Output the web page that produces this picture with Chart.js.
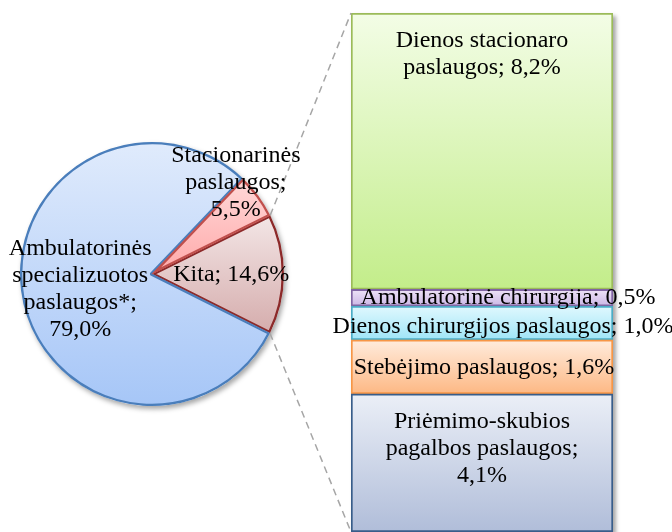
<!DOCTYPE html>
<html>
<head>
<meta charset="utf-8">
<script src="https://cdn.jsdelivr.net/npm/chart.js@4.4.1/dist/chart.umd.min.js"></script>
<style>
html,body{margin:0;padding:0;background:#fff;}
#wrap{position:relative;width:672px;height:532px;overflow:hidden;}
#wrap canvas{position:absolute;left:0;top:0;}
</style>
</head>
<body>
<div id="wrap">
<canvas id="barChart" width="672" height="532"></canvas>
<canvas id="pieChart" width="672" height="532"></canvas>
</div>
<script>
// main pie, first slice is the one that gets split out
const pieCategories = ['Kita', 'Ambulatorinės specializuotos paslaugos*', 'Stacionarinės paslaugos']
const pieValues = [14.6, 79.0, 5.5]

// split bar, listed from the bottom up
const barCategories = ['Priėmimo-skubios pagalbos paslaugos', 'Stebėjimo paslaugos', 'Dienos chirurgijos paslaugos', 'Ambulatorinė chirurgija', 'Dienos stacionaro paslaugos']
const barValues = [4.1, 1.6, 1.0, 0.5, 8.2]

const pct = v => v.toFixed(1).replace('.', ',') + '%'

const pieLabelLines = [
    ['Kita; ' + pct(pieValues[0])],
    ['Ambulatorinės', 'specializuotos', 'paslaugos*;', pct(pieValues[1])],
    ['Stacionarinės', 'paslaugos;', pct(pieValues[2])]
]
const barLabelLines = [
    ['Priėmimo-skubios', 'pagalbos paslaugos;', pct(barValues[0])],
    ['Stebėjimo paslaugos; ' + pct(barValues[1])],
    ['Dienos chirurgijos paslaugos; ' + pct(barValues[2])],
    ['Ambulatorinė chirurgija; ' + pct(barValues[3])],
    ['Dienos stacionaro', 'paslaugos; ' + pct(barValues[4])]
]

const pieColors = [['#f3e6e6', '#d5acac'], ['#e0ebfc', '#a6c6f7'], ['#ffd8d8', '#ffa9a9']]
const pieBorders = ['#8c2a2a', '#4a7ebb', '#c0504d']
const barColors = [['#ebeff7', '#b0bdd9'], ['#ffecdd', '#fdb884'], ['#e0f8fe', '#9fe5f7'], ['#eee3f7', '#cbb6e5'], ['#f3fde6', '#c3ed8a']]
const barBorders = ['#385d8a', '#f79646', '#4bacc6', '#8064a2', '#9bbb59']

const FONT = '24px "Liberation Serif", "Times New Roman", serif'
const LINE_H = 27
const total = barValues.reduce((a, b) => a + b, 0)

function barFill(i) {
    return function (context) {
        const chart = context.chart
        if (!chart.chartArea) return barColors[i][1]
        let below = 0
        for (let k = 0; k < i; k++) below += barValues[k]
        const y = chart.scales.y
        const top = y.getPixelForValue(below + barValues[i])
        const bottom = y.getPixelForValue(below)
        const g = chart.ctx.createLinearGradient(0, top, 0, bottom)
        g.addColorStop(0, barColors[i][0])
        g.addColorStop(1, barColors[i][1])
        return g
    }
}

const barDecor = {
    id: 'barDecor',
    beforeDatasetsDraw(chart) {
        const ctx = chart.ctx
        const first = chart.getDatasetMeta(0).data[0]
        const last = chart.getDatasetMeta(barValues.length - 1).data[0]
        const left = first.x - first.width / 2
        ctx.save()
        ctx.shadowColor = 'rgba(0,0,0,0.35)'
        ctx.shadowBlur = 4
        ctx.shadowOffsetX = 3
        ctx.shadowOffsetY = 3
        ctx.fillStyle = '#fff'
        ctx.fillRect(left, last.y, first.width, first.base - last.y)
        ctx.restore()
    },
    afterDatasetsDraw(chart) {
        const ctx = chart.ctx
        const shift = [0, 2, 21, 26, 0]
        ctx.save()
        ctx.font = FONT
        ctx.fillStyle = '#000'
        ctx.textAlign = 'center'
        ctx.textBaseline = 'middle'
        barLabelLines.forEach((lines, i) => {
            const el = chart.getDatasetMeta(i).data[0]
            const h = el.base - el.y
            const y0 = el.y + Math.min(27.5, Math.max(h / 2, h - 13))
            lines.forEach((t, j) => ctx.fillText(t, el.x + shift[i], y0 + j * LINE_H))
        })
        ctx.restore()
    }
}

const barChart = new Chart(document.getElementById('barChart'), {
    type: 'bar',
    data: {
        labels: [''],
        datasets: barCategories.map((c, i) => ({
            label: c,
            data: [barValues[i]],
            backgroundColor: barFill(i),
            borderColor: barBorders[i],
            borderWidth: 2,
            borderSkipped: false,
            barPercentage: 1,
            categoryPercentage: 1
        }))
    },
    options: {
        responsive: false,
        animation: false,
        layout: { padding: { left: 351, right: 59, top: 13, bottom: 0 } },
        scales: {
            x: { stacked: true, display: false },
            y: { stacked: true, display: false, min: 0, max: total }
        },
        plugins: { legend: { display: false }, tooltip: { enabled: false } }
    },
    plugins: [barDecor]
})

const ROTATION = 63.6

function pieFill(context) {
    const i = context.dataIndex
    const chart = context.chart
    const a = chart.chartArea
    if (!a || i === undefined) return pieColors[0][1]
    const cy = (a.top + a.bottom) / 2
    const r = Math.min(a.right - a.left, a.bottom - a.top) / 2
    const sum = pieValues.reduce((p, q) => p + q, 0)
    let start = (ROTATION - 90) * Math.PI / 180
    for (let k = 0; k < i; k++) start += pieValues[k] / sum * 2 * Math.PI
    const end = start + pieValues[i] / sum * 2 * Math.PI
    let top = cy, bottom = cy
    for (let s = 0; s <= 60; s++) {
        const yy = cy + r * Math.sin(start + (end - start) * s / 60)
        top = Math.min(top, yy)
        bottom = Math.max(bottom, yy)
    }
    const g = chart.ctx.createLinearGradient(0, top, 0, bottom)
    g.addColorStop(0, pieColors[i][0])
    g.addColorStop(1, pieColors[i][1])
    return g
}

const pieDecor = {
    id: 'pieDecor',
    beforeDatasetsDraw(chart) {
        const ctx = chart.ctx
        const arc = chart.getDatasetMeta(0).data[0]
        ctx.save()
        ctx.shadowColor = 'rgba(0,0,0,0.35)'
        ctx.shadowBlur = 5
        ctx.shadowOffsetX = 2
        ctx.shadowOffsetY = 3
        ctx.fillStyle = '#fff'
        ctx.beginPath()
        ctx.arc(arc.x, arc.y, arc.outerRadius, 0, Math.PI * 2)
        ctx.fill()
        ctx.restore()
    },
    afterDatasetsDraw(chart) {
        const ctx = chart.ctx
        const split = chart.getDatasetMeta(0).data[0]
        const bottomBar = barChart.getDatasetMeta(0).data[0]
        const topBar = barChart.getDatasetMeta(barValues.length - 1).data[0]
        const barLeft = bottomBar.x - bottomBar.width / 2

        // connector lines from the split slice to the bar
        ctx.save()
        ctx.strokeStyle = '#a6a6a6'
        ctx.lineWidth = 1.5
        ctx.setLineDash([7, 5])
        ctx.beginPath()
        ctx.moveTo(split.x + Math.cos(split.startAngle) * split.outerRadius, split.y + Math.sin(split.startAngle) * split.outerRadius)
        ctx.lineTo(barLeft, topBar.y)
        ctx.moveTo(split.x + Math.cos(split.endAngle) * split.outerRadius, split.y + Math.sin(split.endAngle) * split.outerRadius)
        ctx.lineTo(barLeft, bottomBar.base)
        ctx.stroke()
        ctx.restore()

        // slice labels: [radius fraction, dx, dy]
        const place = [[0.6, 0, 1], [0.56, 1, 3], [0.93, -15, -18]]
        ctx.save()
        ctx.font = FONT
        ctx.fillStyle = '#000'
        ctx.textAlign = 'center'
        ctx.textBaseline = 'middle'
        pieLabelLines.forEach((lines, i) => {
            const arc = chart.getDatasetMeta(0).data[i]
            const mid = (arc.startAngle + arc.endAngle) / 2
            const cx = arc.x + Math.cos(mid) * arc.outerRadius * place[i][0] + place[i][1]
            const cy = arc.y + Math.sin(mid) * arc.outerRadius * place[i][0] + place[i][2]
            const y0 = cy - (lines.length - 1) * LINE_H / 2
            lines.forEach((t, j) => ctx.fillText(t, cx, y0 + j * LINE_H))
        })
        ctx.restore()
    }
}

const pieChart = new Chart(document.getElementById('pieChart'), {
    type: 'pie',
    data: {
        labels: pieCategories,
        datasets: [{
            data: pieValues,
            backgroundColor: pieFill,
            borderColor: pieBorders,
            borderWidth: 2,
            borderAlign: 'inner'
        }]
    },
    options: {
        responsive: false,
        animation: false,
        rotation: ROTATION,
        layout: { padding: { left: 20, right: 388, top: 142, bottom: 126 } },
        plugins: { legend: { display: false }, tooltip: { enabled: false } }
    },
    plugins: [pieDecor]
})
</script>
</body>
</html>
